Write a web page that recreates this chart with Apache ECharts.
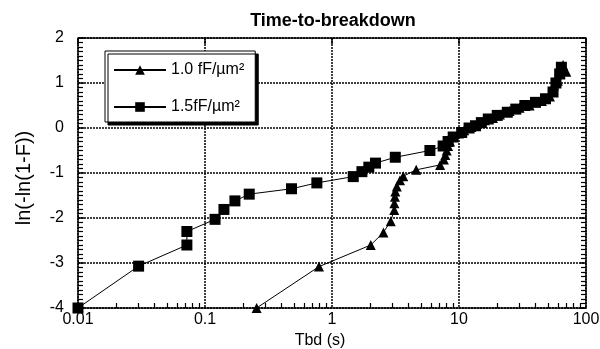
<!DOCTYPE html>
<html>
<head>
<meta charset="utf-8">
<script src="https://cdn.jsdelivr.net/npm/echarts@6/dist/echarts.min.js"></script>
<style>html,body{margin:0;padding:0;background:#fff}#c{width:600px;height:349px}</style>
</head>
<body>
<div id="c"></div>
<script>
// ---- data ----
var titleText = 'Time-to-breakdown';
var xName = 'Tbd (s)';
var yName = 'ln(-ln(1-F))';
var seriesNames = ['1.0 fF/µm²', '1.5fF/µm²'];
var xMinorTicks = [0.02,0.03,0.04,0.05,0.06,0.07,0.08,0.09,
                   0.2,0.3,0.4,0.5,0.6,0.7,0.8,0.9,
                   2,3,4,5,6,7,8,9,
                   20,30,40,50,60,70,80,90];

// 1.0 fF/um2 (triangles)
var triX = [0.255,0.79,2.02,2.54,2.9,3.09,3.1,3.13,3.15,3.24,3.43,3.64,4.6,7.1,7.6,7.8,8.0,8.2,8.5,9.0,10,11,12.5,14,16,18.5,21,25,30,36,45,52,54,56,60,63,66,70];
var triY = [-4,-3.08,-2.6,-2.32,-2.07,-1.82,-1.67,-1.53,-1.41,-1.3,-1.16,-1.07,-0.93,-0.82,-0.7,-0.6,-0.5,-0.4,-0.3,-0.2,-0.12,-0.05,0.02,0.1,0.17,0.22,0.3,0.38,0.45,0.5,0.6,0.7,0.85,0.95,1.05,1.2,1.4,1.25];

// 1.5 fF/um2 (squares)
var sqX = [0.01,0.03,0.072,0.072,0.12,0.141,0.172,0.223,0.48,0.76,1.47,1.72,1.95,2.2,3.15,5.9,7.5,8.2,9.0,10.5,12,13.5,15,17,20,24,28,33,40,48,55,58,62,64];
var sqY = [-4,-3.07,-2.6,-2.3,-2.03,-1.81,-1.62,-1.47,-1.35,-1.22,-1.08,-0.97,-0.87,-0.78,-0.65,-0.5,-0.4,-0.3,-0.2,-0.1,0.0,0.05,0.12,0.2,0.28,0.35,0.42,0.5,0.57,0.65,0.8,1.0,1.2,1.35];

function zip(a, b) { return a.map(function (v, i) { return [v, b[i]]; }); }

var chart = echarts.init(document.getElementById('c'));
var F = 'Liberation Sans, Arial, sans-serif';
var dot = [2, 1];

chart.setOption({
  animation: false,
  title: {
    text: titleText, left: 328, textAlign: 'center', top: 7,
    textStyle: {fontFamily: F, fontSize: 18, fontWeight: 'bold', color: '#000'}
  },
  grid: {left: 78, right: 14, top: 38, bottom: 41, outerBoundsMode: 'none'},
  legend: {
    orient: 'vertical', left: 105, top: 51,
    padding: [11, 11, 7, 8], itemGap: 21,
    itemWidth: 52, itemHeight: 12,
    backgroundColor: '#fff', borderColor: '#000', borderWidth: 1,
    shadowColor: '#000', shadowOffsetX: 3, shadowOffsetY: 3, shadowBlur: 0,
    textStyle: {fontFamily: F, fontSize: 16, color: '#000'},
    data: seriesNames
  },
  xAxis: [{
    type: 'log', logBase: 10, min: 0.01, max: 100, position: 'bottom',
    name: xName, nameLocation: 'middle', nameGap: 24,
    nameTextStyle: {fontFamily: F, fontSize: 16, color: '#000', padding: [0, 24, 0, 0]},
    axisLine: {show: true, onZero: false, lineStyle: {color: '#000', width: 1.5, type: dot}},
    axisTick: {show: true, inside: true, length: 5, customValues: xMinorTicks, lineStyle: {color: '#000', width: 1.2}},
    axisLabel: {fontFamily: F, fontSize: 16, color: '#000', margin: 4,
      formatter: function (v) { return String(v); }},
    splitLine: {show: false}
  }, {
    type: 'log', logBase: 10, min: 0.01, max: 100, position: 'top',
    axisLine: {show: true, onZero: false, lineStyle: {color: '#000', width: 1.5, type: dot}},
    axisTick: {show: true, inside: true, length: 6, lineStyle: {color: '#000', width: 1.5}},
    axisLabel: {show: false},
    splitLine: {show: true, lineStyle: {color: '#000', width: 1.5, type: dot}}
  }],
  yAxis: [{
    type: 'value', min: -4, max: 2, interval: 1, position: 'left',
    name: yName, nameLocation: 'middle', nameGap: 44,
    nameTextStyle: {fontFamily: F, fontSize: 20, color: '#000', padding: [0, 10, 0, 0]},
    axisLine: {show: true, onZero: false, lineStyle: {color: '#000', width: 1.5, type: dot}},
    axisTick: {show: true, inside: true, length: 6, lineStyle: {color: '#000', width: 1.5}},
    minorTick: {show: true, splitNumber: 10, length: 5, lineStyle: {color: '#000', width: 1.2}},
    axisLabel: {fontFamily: F, fontSize: 16, color: '#000', margin: 14},
    splitLine: {show: true, lineStyle: {color: '#000', width: 1.5, type: dot}}
  }, {
    type: 'value', min: -4, max: 2, interval: 1, position: 'right',
    axisLine: {show: true, onZero: false, lineStyle: {color: '#000', width: 1.5, type: dot}},
    axisTick: {show: true, inside: true, length: 6, lineStyle: {color: '#000', width: 1.5}},
    minorTick: {show: true, splitNumber: 10, length: 5, lineStyle: {color: '#000', width: 1.2}},
    axisLabel: {show: false},
    splitLine: {show: false}
  }],
  series: [{
    name: seriesNames[0], type: 'line',
    data: zip(triX, triY),
    symbol: 'triangle', symbolSize: 10,
    itemStyle: {color: '#000'},
    lineStyle: {color: '#000', width: 1}
  }, {
    name: seriesNames[1], type: 'line',
    data: zip(sqX, sqY),
    symbol: 'rect', symbolSize: 11,
    itemStyle: {color: '#000'},
    lineStyle: {color: '#000', width: 1}
  }]
});
</script>
</body>
</html>
